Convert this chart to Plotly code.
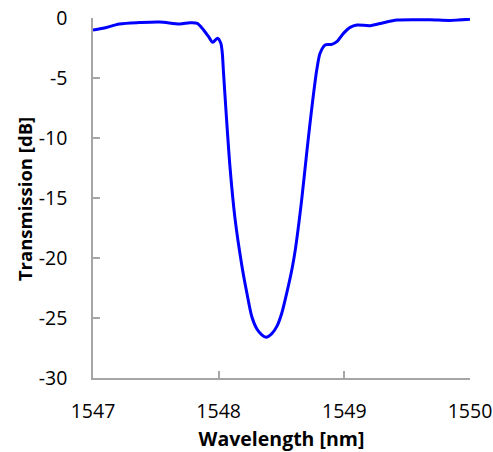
import plotly.graph_objects as go

wavelength_nm = [1547.00, 1547.08, 1547.21, 1547.37, 1547.53, 1547.69, 1547.77, 1547.83,
                 1547.88, 1547.92, 1547.953, 1547.99, 1548.017, 1548.029, 1548.037, 1548.06,
                 1548.09, 1548.13, 1548.184, 1548.224, 1548.264, 1548.303, 1548.343, 1548.377,
                 1548.423, 1548.463, 1548.502, 1548.542, 1548.582, 1548.61, 1548.66, 1548.70,
                 1548.74, 1548.781, 1548.807, 1548.847, 1548.90, 1548.94, 1548.993, 1549.046,
                 1549.10, 1549.205, 1549.311, 1549.418, 1549.68, 1549.84, 1550.00]
transmission_db = [-1.00, -0.86, -0.50, -0.38, -0.33, -0.50, -0.39, -0.44,
                   -1.00, -1.56, -2.03, -1.69, -2.10, -2.94, -4.30, -8.00,
                   -12.4, -16.7, -20.6, -22.9, -24.9, -25.9, -26.4, -26.6,
                   -26.3, -25.7, -24.6, -22.9, -21.0, -19.3, -15.2, -11.3,
                   -7.6, -4.3, -2.94, -2.25, -2.20, -1.97, -1.28, -0.78,
                   -0.58, -0.64, -0.39, -0.17, -0.15, -0.20, -0.10]

x_ticks = [1547, 1548, 1549, 1550]
x_tick_labels = ["1547", "1548", "1549", "1550"]
y_ticks = [0, -5, -10, -15, -20, -25, -30]
y_tick_labels = ["0", "-5", "-10", "-15", "-20", "-25", "-30"]

FONT = "Open Sans, Liberation Sans, sans-serif"

fig = go.Figure(go.Scatter(
    x=wavelength_nm, y=transmission_db, mode="lines",
    line=dict(color="#0000FF", width=3, shape="spline", smoothing=0.8),
))

axis_common = dict(
    showgrid=False, zeroline=False, showline=True, linecolor="#A6A6A6", linewidth=1.5,
    ticks="inside", ticklen=7, tickcolor="#A6A6A6", tickwidth=1.5, automargin=False,
    tickfont=dict(family=FONT, size=19.5, color="black"),
)

fig.update_layout(
    width=493, height=452,
    margin=dict(l=93, r=23, t=18, b=74),
    paper_bgcolor="white", plot_bgcolor="white",
    showlegend=False,
    xaxis=dict(range=[1547, 1550], tickvals=x_ticks, ticktext=x_tick_labels, ticklabelstandoff=15,
               title=dict(text="<b>Wavelength [nm]</b>", standoff=13,
                          font=dict(family=FONT, size=19.5, color="black")),
               **axis_common),
    yaxis=dict(range=[-30, 0], tickvals=y_ticks, ticktext=y_tick_labels, ticklabelstandoff=20,
               **axis_common),
    annotations=[dict(
        text="<b>Transmission [dB]</b>", textangle=-90, showarrow=False,
        xref="paper", yref="paper", x=-0.183, y=0.497, xanchor="center", yanchor="middle",
        font=dict(family=FONT, size=18.5, color="black"),
    )],
)

# remove the browser's default 8px body margin so the figure fills the window
fig.write_html("out.html", config={"displayModeBar": False},
               post_script="document.body.style.margin='0';")
